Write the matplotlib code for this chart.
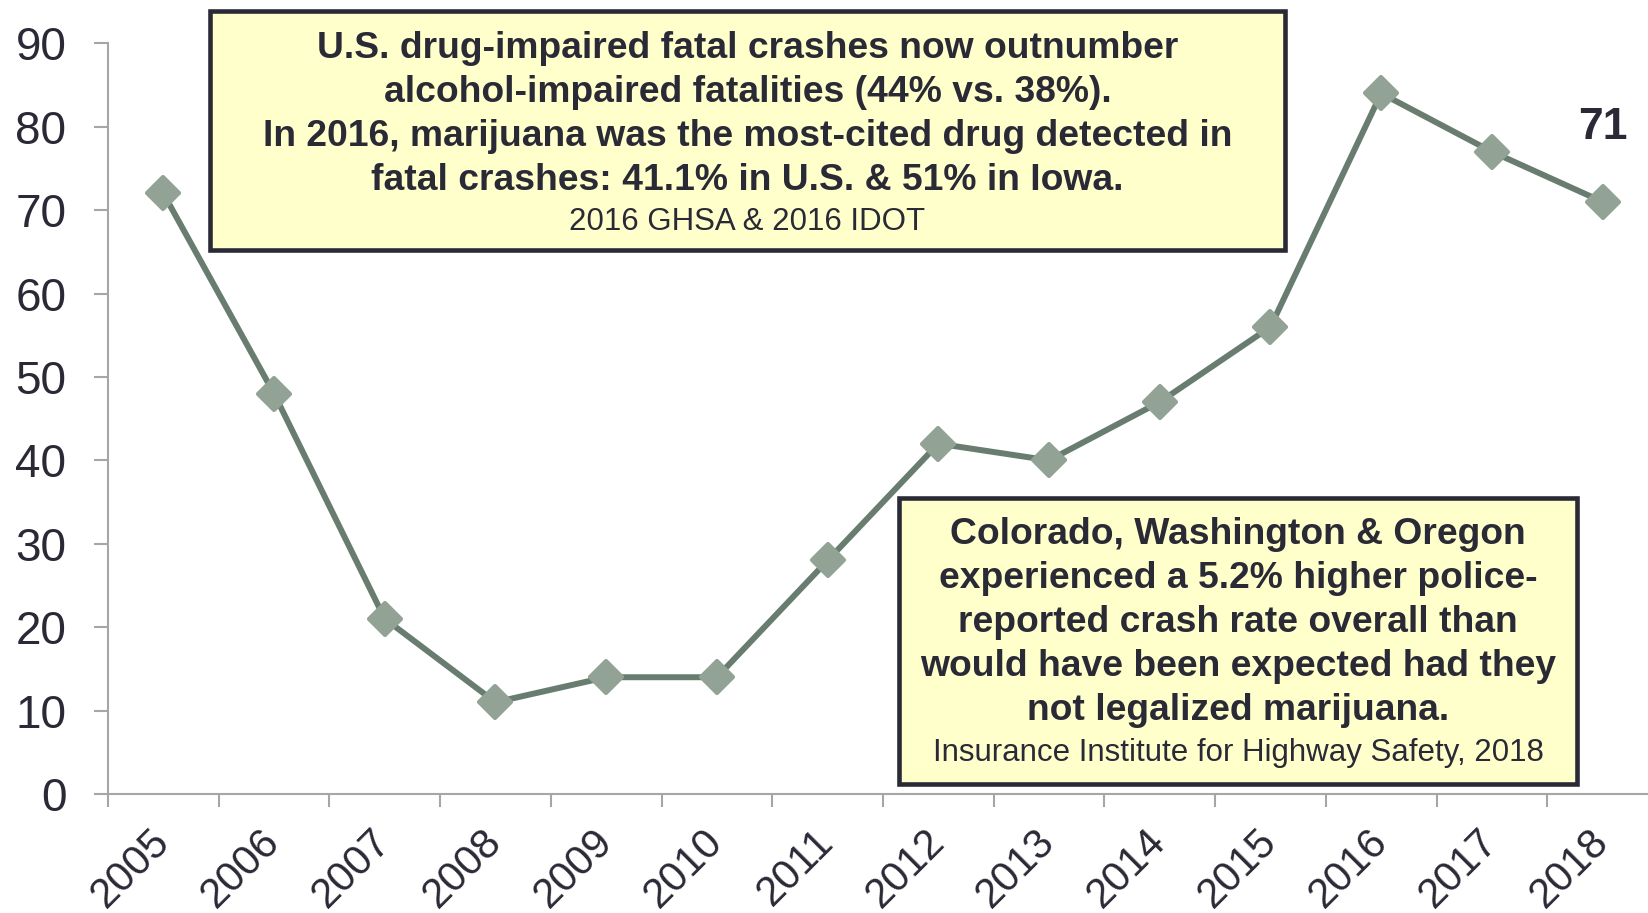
import matplotlib
matplotlib.use("Agg")
import matplotlib.pyplot as plt
from matplotlib.patches import Rectangle
from matplotlib.markers import MarkerStyle

plt.rcParams['font.family'] = ['Liberation Sans', 'DejaVu Sans']

years = ["2005", "2006", "2007", "2008", "2009", "2010", "2011",
         "2012", "2013", "2014", "2015", "2016", "2017", "2018"]
values = [72, 48, 21, 11, 14, 14, 28, 42, 40, 47, 56, 84, 77, 71]
yticks = [0, 10, 20, 30, 40, 50, 60, 70, 80, 90]

box1_lines = ["U.S. drug-impaired fatal crashes now outnumber",
              "alcohol-impaired fatalities (44% vs. 38%).",
              "In 2016, marijuana was the most-cited drug detected in",
              "fatal crashes: 41.1% in U.S. & 51% in Iowa."]
box1_source = "2016 GHSA & 2016 IDOT"
box2_lines = ["Colorado, Washington & Oregon",
              "experienced a 5.2% higher police-",
              "reported crash rate overall than",
              "would have been expected had they",
              "not legalized marijuana."]
box2_source = "Insurance Institute for Highway Safety, 2018"

W, H = 1649, 913
TXT = '#2a2a36'
AX = '#a6a6a6'
LINE = '#687d70'
MARK = '#92a396'

fig = plt.figure(figsize=(W / 100, H / 100), dpi=100)

def fx(x):
    return x / W

def fy(y):
    return 1 - y / H

ax_left, ax_right, ax_bottom, ax_top = 108, 1658, 794, 43.3
ax = fig.add_axes([fx(ax_left), fy(ax_bottom), (ax_right - ax_left) / W, (ax_bottom - ax_top) / H])

x = list(range(len(years)))
ax.plot(x, values, color=LINE, lw=4.3, solid_joinstyle='round', zorder=3, clip_on=False)
ax.plot(x, values, linestyle='none',
        marker=MarkerStyle('D', joinstyle='round'), ms=16, mfc=MARK, mec=MARK, mew=3,
        zorder=4, clip_on=False)

ax.set_xlim(-0.5, len(years) - 0.5)
ax.set_ylim(0, 90)
ax.set_yticks(yticks)
ax.set_yticklabels([str(v) for v in yticks])
ax.set_xticks(x)
ax.set_xticklabels(years, rotation=45, ha='right', va='center', rotation_mode='anchor')
ax.set_xticks([i - 0.5 for i in range(len(years) + 1)], minor=True)

ax.tick_params(axis='y', which='major', length=10, width=1.5, color=AX, direction='out',
               pad=20, labelsize=33, labelcolor=TXT)
ax.tick_params(axis='x', which='major', length=0, pad=30, labelsize=30, labelcolor=TXT)
ax.tick_params(axis='x', which='minor', length=9.5, width=1.5, color=AX, direction='out')

for s in ['top', 'right']:
    ax.spines[s].set_visible(False)
for s in ['left', 'bottom']:
    ax.spines[s].set_color(AX)
    ax.spines[s].set_linewidth(1.5)

ax.text(len(years) - 1, 79.9, str(values[-1]), ha='center', va='center',
        fontsize=32, fontweight='bold', color=TXT)

def box(x0, y0, x1, y1):
    r = Rectangle((fx(x0), fy(y1)), (x1 - x0) / W, (y1 - y0) / H,
                  transform=fig.transFigure, facecolor='#ffffcc', edgecolor=TXT,
                  linewidth=3.3, zorder=10, joinstyle='miter')
    fig.add_artist(r)

box(210, 11, 1285, 250)
cx1 = (210 + 1285) / 2
for ln, yy in zip(box1_lines, [48, 92, 137, 181]):
    fig.text(fx(cx1), fy(yy), ln, ha='center', va='center', fontsize=26.8,
             fontweight='bold', color=TXT, zorder=11)
fig.text(fx(cx1), fy(222), box1_source, ha='center', va='center', fontsize=22.5,
         color=TXT, zorder=11)

box(899, 498, 1577, 784)
cx2 = (899 + 1577) / 2
for ln, yy in zip(box2_lines, [534, 578, 622, 666, 710]):
    fig.text(fx(cx2), fy(yy), ln, ha='center', va='center', fontsize=26.8,
             fontweight='bold', color=TXT, zorder=11)
fig.text(fx(cx2), fy(753), box2_source, ha='center', va='center', fontsize=22.5,
         color=TXT, zorder=11)

fig.savefig('out.png', dpi=100)
